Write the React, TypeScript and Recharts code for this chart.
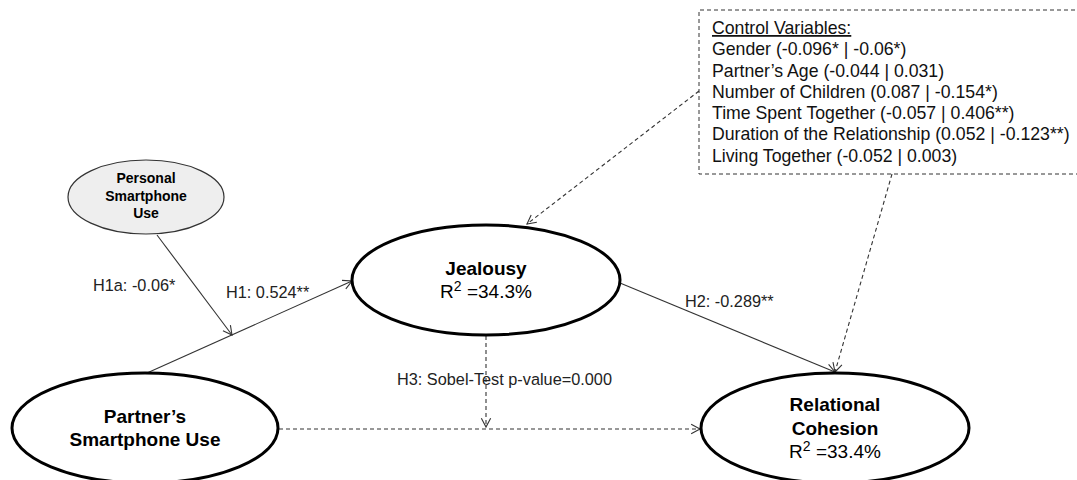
import React from 'react';
import { ScatterChart, Scatter, XAxis, YAxis, ReferenceLine, ReferenceArea } from 'recharts';

const W = 1077;
const H = 480;
const FONT = '"Liberation Sans", Arial, Helvetica, sans-serif';

// ---- nodes (diagram coordinates) ----
const nodeIds = ['personal', 'partner', 'jealousy', 'cohesion'];
const nodeX = [146, 145, 486, 835];
const nodeY = [197, 428, 280, 428];
const nodeLines = [
  ['Personal', 'Smartphone', 'Use'],
  ['Partner\u2019s', 'Smartphone Use'],
  ['Jealousy'],
  ['Relational', 'Cohesion'],
];
const nodeR2 = ['', '', '34.3%', '33.4%'];

// ---- edges ----
const edgeFromX = [147, 157, 620, 699, 892, 486, 279];
const edgeFromY = [373, 235, 283, 91, 174, 336, 429];
const edgeToX = [352, 232, 835, 527, 835, 486, 700];
const edgeToY = [281, 335, 372, 224, 372, 427, 429];
const edgeDashed = [false, false, false, true, true, true, true];

// ---- path labels ----
const labelTexts = ['H1a: -0.06*', 'H1: 0.524**', 'H2: -0.289**', 'H3: Sobel-Test p-value=0.000'];
const labelX = [93, 226, 685, 397];
const labelY = [291, 298, 307, 385];

// ---- control variables box ----
const controlLines = [
  'Control Variables:',
  'Gender (-0.096* | -0.06*)',
  'Partner\u2019s Age (-0.044 | 0.031)',
  'Number of Children (0.087 | -0.154*)',
  'Time Spent Together (-0.057 | 0.406**)',
  'Duration of the Relationship (0.052 | -0.123**)',
  'Living Together (-0.052 | 0.003)',
];
const controlX = 712;
const controlY = [34, 55, 77, 98, 119, 140, 162];
const boxX = [699, 1077];
const boxY = [10, 174];

// ---- styles ----
const nodeStyle: Record<string, any> = {
  personal: { rx: 78, ry: 37, fill: '#eeeeee', stroke: '#333', sw: 1.2, fs: 14, lh: 17.5, textDy: -1.5 },
  partner: { rx: 133, ry: 55, fill: '#fff', stroke: '#000', sw: 3, fs: 19, lh: 23, textDy: 0 },
  jealousy: { rx: 134, ry: 55, fill: '#fff', stroke: '#000', sw: 3, fs: 19, lh: 23, textDy: 0 },
  cohesion: { rx: 134, ry: 55, fill: '#fff', stroke: '#000', sw: 3, fs: 19, lh: 23.5, textDy: 0 },
};

const nodeData = nodeIds.map((id, i) => ({ id, x: nodeX[i], y: nodeY[i], lines: nodeLines[i], r2: nodeR2[i] }));
const labelData = labelTexts.map((t, i) => ({ t, x: labelX[i], y: labelY[i] }));
const controlData = controlLines.map((t, i) => ({ t, i, x: controlX, y: controlY[i] }));

const NodeShape = (props: any) => {
  const { cx, cy, payload } = props;
  const st = nodeStyle[payload.id];
  const rows: any[] = payload.lines.map((l: string) => ({ l, r2: false }));
  if (payload.r2) rows.push({ l: payload.r2, r2: true });
  const n = rows.length;
  const capHalf = st.fs * 0.36;
  return (
    <g>
      <ellipse cx={cx} cy={cy} rx={st.rx} ry={st.ry} fill={st.fill} stroke={st.stroke} strokeWidth={st.sw} />
      {rows.map((r, i) => {
        const by = cy + st.textDy + (i - (n - 1) / 2) * st.lh + capHalf;
        if (r.r2) {
          return (
            <text key={i} x={cx} y={by} textAnchor="middle" fontFamily={FONT} fontSize={st.fs} fill="#000">
              R<tspan fontSize={14} dy={-7}>2</tspan>
              <tspan dy={7}>{' =' + r.l}</tspan>
            </text>
          );
        }
        return (
          <text key={i} x={cx} y={by} textAnchor="middle" fontFamily={FONT} fontSize={st.fs} fontWeight="bold" fill="#000">
            {r.l}
          </text>
        );
      })}
    </g>
  );
};

const LabelShape = (props: any) => {
  const { cx, cy, payload } = props;
  return (
    <text x={cx} y={cy} fontFamily={FONT} fontSize={16.3} fill="#222">
      {payload.t}
    </text>
  );
};

const ControlShape = (props: any) => {
  const { cx, cy, payload } = props;
  return (
    <text x={cx} y={cy} fontFamily={FONT} fontSize={17.7} fill="#111" textDecoration={payload.i === 0 ? 'underline' : undefined}>
      {payload.t}
    </text>
  );
};

const makeArrow = (dashed: boolean) => (props: any) => {
  const { x1, y1, x2, y2 } = props;
  const ang = Math.atan2(y2 - y1, x2 - x1);
  const L = 10;
  const a = Math.PI / 6.5;
  const p1x = x2 - L * Math.cos(ang - a);
  const p1y = y2 - L * Math.sin(ang - a);
  const p2x = x2 - L * Math.cos(ang + a);
  const p2y = y2 - L * Math.sin(ang + a);
  const col = '#333';
  return (
    <g>
      <line x1={x1} y1={y1} x2={x2} y2={y2} stroke={col} strokeWidth={1.1} strokeDasharray={dashed ? '4 3' : undefined} />
      <polyline points={`${p1x},${p1y} ${x2},${y2} ${p2x},${p2y}`} fill="none" stroke={col} strokeWidth={1.1} />
    </g>
  );
};

const BoxShape = (props: any) => {
  const { x, y, width, height } = props;
  return (
    <path
      d={`M${x + width + 5},${y} H${x} V${y + height} H${x + width + 5}`}
      fill="none"
      stroke="#333"
      strokeWidth={1}
      strokeDasharray="4 3"
    />
  );
};

export default function App() {
  return (
    <div style={{ position: 'absolute', left: 0, top: 0, width: W, height: H, background: '#fff' }}>
      <ScatterChart width={W} height={H} margin={{ top: 0, right: 0, bottom: 0, left: 0 }}>
        <XAxis type="number" dataKey="x" domain={[0, W]} hide allowDataOverflow />
        <YAxis type="number" dataKey="y" domain={[0, H]} reversed hide allowDataOverflow />
        <ReferenceArea x1={boxX[0]} x2={boxX[1]} y1={boxY[0]} y2={boxY[1]} ifOverflow="visible" shape={BoxShape} />
        {edgeFromX.map((_, i) => (
          <ReferenceLine
            key={i}
            ifOverflow="visible"
            segment={[
              { x: edgeFromX[i], y: edgeFromY[i] },
              { x: edgeToX[i], y: edgeToY[i] },
            ]}
            shape={makeArrow(edgeDashed[i])}
          />
        ))}
        <Scatter data={nodeData} shape={NodeShape} isAnimationActive={false} />
        <Scatter data={labelData} shape={LabelShape} isAnimationActive={false} />
        <Scatter data={controlData} shape={ControlShape} isAnimationActive={false} />
      </ScatterChart>
    </div>
  );
}
